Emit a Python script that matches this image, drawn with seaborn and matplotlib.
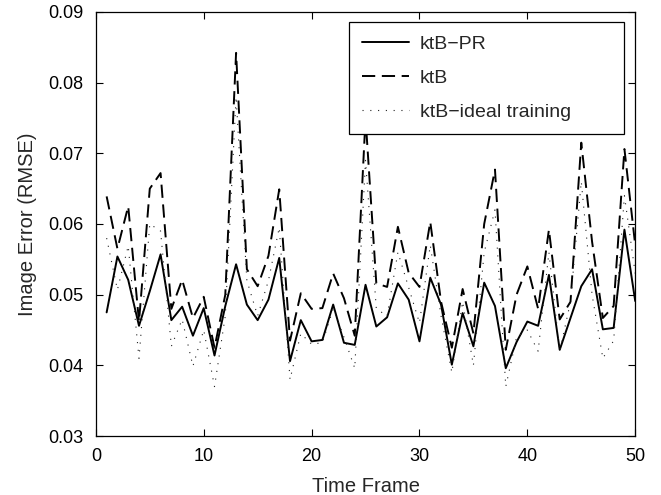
import numpy as np
import pandas as pd
import matplotlib
matplotlib.use("Agg")
import matplotlib.pyplot as plt
import seaborn as sns
from matplotlib.ticker import FormatStrFormatter

frames = list(range(1, 51))

ktb_pr = [0.0475, 0.0554, 0.0521, 0.0456, 0.0505, 0.0557, 0.0464, 0.0483, 0.0442, 0.0481,
          0.0414, 0.0484, 0.0543, 0.0486, 0.0464, 0.0493, 0.0552, 0.0406, 0.0464, 0.0434,
          0.0436, 0.0486, 0.0432, 0.0429, 0.0514, 0.0455, 0.0468, 0.0516, 0.0493, 0.0434,
          0.0524, 0.0486, 0.0401, 0.0474, 0.0427, 0.0517, 0.0484, 0.0396, 0.0433, 0.0462,
          0.0456, 0.0528, 0.0422, 0.0467, 0.0512, 0.0536, 0.0451, 0.0453, 0.0592, 0.0491]

ktb = [0.0639, 0.0565, 0.0625, 0.0462, 0.0650, 0.0672, 0.0480, 0.0521, 0.0467, 0.0497,
       0.0425, 0.0500, 0.0842, 0.0536, 0.0512, 0.0555, 0.0649, 0.0435, 0.0502, 0.0480,
       0.0481, 0.0530, 0.0495, 0.0442, 0.0750, 0.0516, 0.0511, 0.0596, 0.0531, 0.0511,
       0.0603, 0.0490, 0.0425, 0.0508, 0.0445, 0.0600, 0.0677, 0.0422, 0.0500, 0.0540,
       0.0480, 0.0592, 0.0465, 0.0490, 0.0715, 0.0575, 0.0467, 0.0484, 0.0706, 0.0570]

ktb_ideal = [0.0580, 0.0507, 0.0569, 0.0410, 0.0600, 0.0590, 0.0427, 0.0465, 0.0399, 0.0450,
             0.0370, 0.0470, 0.0780, 0.0520, 0.0470, 0.0520, 0.0595, 0.0380, 0.0445, 0.0430,
             0.0432, 0.0480, 0.0440, 0.0396, 0.0690, 0.0480, 0.0470, 0.0560, 0.0510, 0.0460,
             0.0570, 0.0470, 0.0390, 0.0490, 0.0400, 0.0560, 0.0620, 0.0370, 0.0440, 0.0450,
             0.0420, 0.0560, 0.0420, 0.0490, 0.0660, 0.0500, 0.0410, 0.0435, 0.0640, 0.0530]

labels = ["ktB\u2212PR", "ktB", "ktB\u2212ideal training"]
x_ticks = [0, 10, 20, 30, 40, 50]
y_ticks = [0.03, 0.04, 0.05, 0.06, 0.07, 0.08, 0.09]

sns.set_theme(style="white")
plt.rcParams["font.family"] = ["Liberation Sans", "DejaVu Sans"]

fig = plt.figure(figsize=(6.61, 4.95), dpi=100)
ax = fig.add_axes([0.145, 0.119, 0.816, 0.857])

sns.lineplot(x=frames, y=ktb_pr, ax=ax, color="black", linewidth=1.4,
             label=labels[0], linestyle="-")
sns.lineplot(x=frames, y=ktb, ax=ax, color="black", linewidth=1.4,
             label=labels[1], linestyle=(0, (6.8, 3.4)))
sns.lineplot(x=frames, y=ktb_ideal, ax=ax, color="#222222", linewidth=0.8,
             label=labels[2], linestyle=(0, (1, 6)))

ax.set_xlim(0, 50)
ax.set_ylim(0.03, 0.09)
ax.set_xticks(x_ticks)
ax.set_yticks(y_ticks)
ax.yaxis.set_major_formatter(FormatStrFormatter("%.2f"))
ax.tick_params(direction="in", length=5, width=0.8, top=True, right=True,
               bottom=True, left=True, labelsize=13, colors="black")
ax.tick_params(axis="x", pad=8.5)
ax.tick_params(axis="y", pad=9)
for s in ax.spines.values():
    s.set_visible(True)
    s.set_color("black")
    s.set_linewidth(0.9)
ax.set_xlabel("Time Frame", fontsize=14.5, labelpad=9)
ax.set_ylabel("Image Error (RMSE)", fontsize=14.5, labelpad=8)

leg = ax.legend(loc="upper left", bbox_to_anchor=(0.469, 0.976, 0.510, 0.0),
                mode="expand", frameon=True, fancybox=False, fontsize=14,
                handlelength=2.4, handletextpad=0.55, labelspacing=0.83,
                borderaxespad=0.0, borderpad=0.7)
leg.get_frame().set_edgecolor("black")
leg.get_frame().set_linewidth(0.9)
leg.get_frame().set_facecolor("white")
leg.get_frame().set_alpha(1.0)

fig.savefig("out.png", dpi=100)
